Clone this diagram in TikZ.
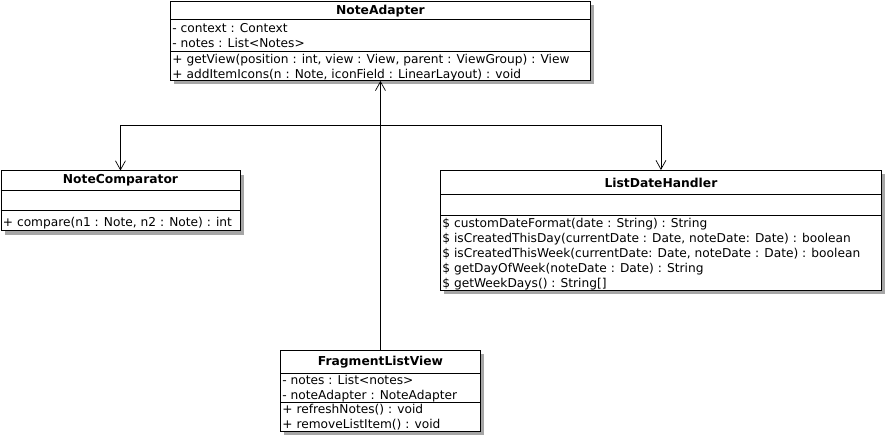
\documentclass[tikz,border=0pt]{standalone}
\usepackage{fontspec}
\setmainfont{DejaVu Sans}
\usetikzlibrary{arrows.meta,shadows,calc}
\newcommand{\umlrule}[2]{\draw ($(#1.north west)+(0,#2)$) -- ($(#1.north east)+(0,#2)$);}
\tikzset{
  every picture/.style = {
    line width = 0.9pt,
    x = 1pt,
    y = -1pt,
    >={Straight Barb[length=9pt,width=10pt,line width=0.7pt]},
  }
  ,
  umlclass/.style = {
    rectangle,
    draw,
    fill = white,
    anchor = north west,
    inner sep = 0pt,
    drop shadow = {shadow xshift=4pt, shadow yshift=-4pt, fill=black!35, opacity=1}
  }
  , % class names
  umlname/.style = {
    anchor = base,
    inner sep = 0pt,
    font = \fontsize{12.3}{14}\selectfont\bfseries
  }
  , % attributes and operations
  umlmembers/.style = {
    anchor = north west,
    align = left,
    inner sep = 0pt,
    font = \fontsize{12.2}{15}\selectfont,
    execute at begin node = \rule{0pt}{10.5pt}
  }
}
\begin{document}
\begin{tikzpicture}
  \useasboundingbox (0,0) rectangle (885,435);
  % class boxes
  \node [umlclass, minimum width=420pt, minimum height=79pt] (adapter) at (170,1) {};
  \node [umlclass, minimum width=239pt, minimum height=60pt] (comparator) at (0.5,170.5) {};
  \node [umlclass, minimum width=441pt, minimum height=120pt] (handler) at (440,170) {};
  \node [umlclass, minimum width=200pt, minimum height=81pt] (fragment) at (280,350) {};

  \umlrule{adapter}{18} \umlrule{adapter}{50}
  \umlrule{comparator}{19.5} \umlrule{comparator}{40}
  \umlrule{handler}{24} \umlrule{handler}{45}
  \umlrule{fragment}{23.3} \umlrule{fragment}{52.3}

  % names
  \node [umlname] (adapter-name) at ($(adapter.north)+(0,14)$) {NoteAdapter};
  \node [umlname] (comparator-name) at ($(comparator.north)+(0,13.5)$) {NoteComparator};
  \node [umlname] (handler-name) at ($(handler.north)+(0,18)$) {ListDateHandler};
  \node [umlname] (fragment-name) at ($(fragment.north)+(0,15)$) {FragmentListView};

  % members
  \node [umlmembers] (adapter-attr) at ($(adapter.north west)+(2,21.5)$)
    {- context : Context\\- notes : List<Notes>};
  \node [umlmembers] (adapter-ops) at ($(adapter.north west)+(2,53)$)
    {+ getView(position : int, view : View, parent : ViewGroup) : View\\+ addItemIcons(n : Note, iconField : LinearLayout) : void};
  \node [umlmembers] (comparator-ops) at ($(comparator.north west)+(2,45)$)
    {+ compare(n1 : Note, n2 : Note) : int};
  \node [umlmembers] (handler-ops) at ($(handler.north west)+(2,47.5)$)
    {\$ customDateFormat(date : String) : String\\
     \$ isCreatedThisDay(currentDate : Date, noteDate: Date) : boolean\\
     \$ isCreatedThisWeek(currentDate: Date, noteDate : Date) : boolean\\
     \$ getDayOfWeek(noteDate : Date) : String\\
     \$ getWeekDays() : String[]};
  \node [umlmembers] (fragment-attr) at ($(fragment.north west)+(2,25)$)
    {- notes : List<notes>\\- noteAdapter : NoteAdapter};
  \node [umlmembers] (fragment-ops) at ($(fragment.north west)+(2,53.5)$)
    {+ refreshNotes() : void\\+ removeListItem() : void};

  % dependencies
  \coordinate (split) at ($(fragment.north)+(0,-225)$);
  \draw [->] (fragment.north) -- (adapter.south);
  \draw [->] (fragment.north) -- (split) -| (comparator.north);
  \draw [->] (fragment.north) -- (split) -| (handler.north);
\end{tikzpicture}
\end{document}
